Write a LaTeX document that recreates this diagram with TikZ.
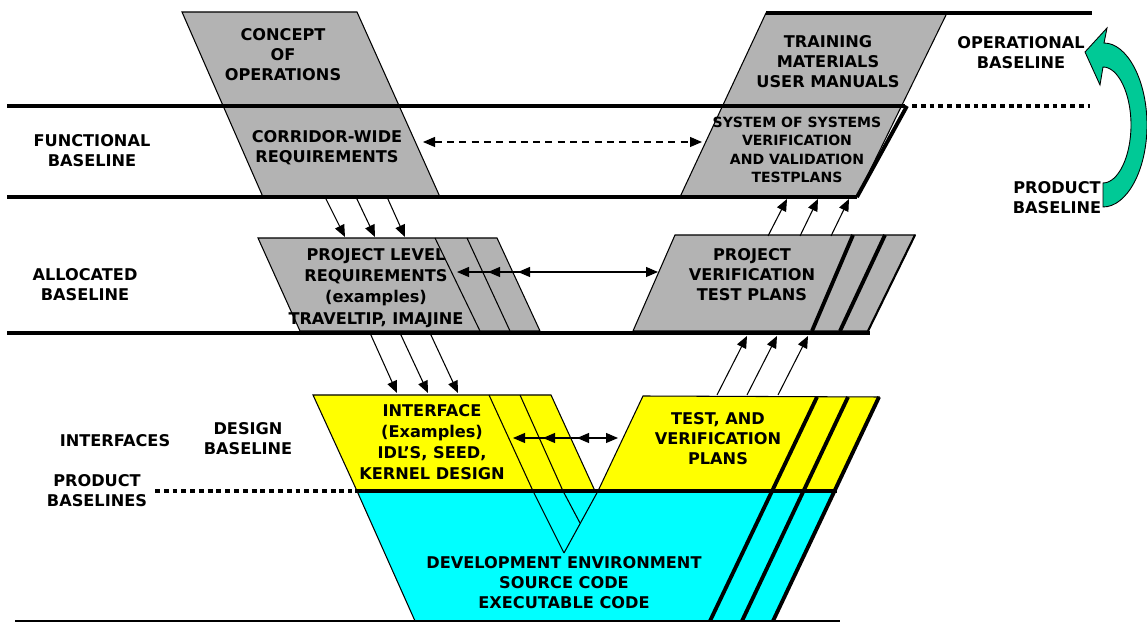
\documentclass[tikz,border=0pt]{standalone}
\usepackage{fontspec}
\setmainfont{DejaVu Sans}
\usetikzlibrary{arrows.meta}
\definecolor{BoxGray}{HTML}{B3B3B3}
\definecolor{DesignYellow}{HTML}{FFFF00}
\definecolor{DevCyan}{HTML}{00FFFF}
\definecolor{CycleGreen}{HTML}{00C996}
\begin{document}
\begin{tikzpicture}[x=0.02cm,y=-0.02cm,font=\fontsize{9.2}{11.4}\selectfont\bfseries,rule/.style={line width=2.8pt},dotrule/.style={line width=2.8pt,dash pattern=on 2.8pt off 2.2pt},graybox/.style={draw,fill=BoxGray,line width=0.6pt},yellowbox/.style={draw,fill=DesignYellow,line width=0.6pt},cyanbox/.style={draw,fill=DevCyan,line width=0.6pt},divider/.style={line width=2.2pt},thin line/.style={line width=0.6pt},arr/.style={-{Triangle[length=2.4mm,width=2mm]},line width=0.6pt},dblarr/.style={{Triangle[length=2.4mm,width=2mm]}-{Triangle[length=2.4mm,width=2mm]},line width=0.6pt},lbl/.style={align=center,inner sep=0pt}]
\useasboundingbox (0,0) rectangle (1147,624);
\filldraw[graybox] (182,12) -- (357,12) -- (440,197) -- (263,197) -- cycle;
\filldraw[graybox] (766,13) -- (947,13) -- (857,197) -- (680,197) -- cycle;
\draw[divider] (907,106) -- (857,197);
\filldraw[graybox] (258,238) -- (497,238) -- (540,331) -- (300,331) -- cycle;
\draw[thin line] (435,238) -- (480,331);\draw[thin line] (467,238) -- (510,331);
\filldraw[graybox] (675,235) -- (915,235) -- (868,331) -- (633,331) -- cycle;
\draw[divider] (853,235) -- (812,331);\draw[divider] (885,235) -- (840,331);\draw[line width=1.2pt] (915,235) -- (868,331);
\filldraw[cyanbox] (357,491) -- (415,621) -- (773,621) -- (835,491) -- cycle;
\filldraw[yellowbox] (313,395) -- (551,395) -- (595,491) -- (357,491) -- cycle;
\draw[thin line] (489,395) -- (533,491) -- (564,553);\draw[thin line] (520,395) -- (563,491) -- (580,523);
\filldraw[yellowbox] (643,396) -- (879,397) -- (835,491) -- (598,491) -- cycle;
\draw[thin line] (598,491) -- (564,553);
\draw[divider] (817,397) -- (710,621);\draw[divider] (848,397) -- (742,621);\draw[divider] (879,397) -- (773,621);
\draw[rule] (766,13) -- (1092,13);
\draw[rule] (7,106) -- (905,106);\draw[dotrule] (912,106) -- (1090,106);
\draw[rule] (7,197) -- (857,197);
\draw[rule] (7,333) -- (870,333);
\draw[rule] (355,491) -- (837,491);\draw[dotrule] (155,491) -- (352,491);
\draw[line width=1.2pt] (15,621) -- (840,621);
\node[lbl] (conops) at (283,55) {CONCEPT\\OF\\OPERATIONS};
\node[lbl] (corridor) at (327,148) {CORRIDOR-WIDE\\REQUIREMENTS};
\node[lbl] (training) at (828,62) {TRAINING\\MATERIALS\\USER MANUALS};
\node[lbl,font=\fontsize{8}{10.5}\selectfont\bfseries] (sosvv) at (797,150) {SYSTEM OF SYSTEMS\\VERIFICATION\\AND VALIDATION\\TESTPLANS};
\node[lbl,font=\fontsize{9.2}{12}\selectfont\bfseries] (projreq) at (376,288) {PROJECT LEVEL\\REQUIREMENTS\\(examples)\\TRAVELTIP, IMAJINE};
\node[lbl] (projver) at (752,275) {PROJECT\\VERIFICATION\\TEST PLANS};
\node[lbl,font=\fontsize{9.2}{12}\selectfont\bfseries] (interface) at (432,442) {INTERFACE\\(Examples)\\IDL’S, SEED,\\KERNEL DESIGN};
\node[lbl] (testver) at (718,439) {TEST, AND\\VERIFICATION\\PLANS};
\node[lbl] (devenv) at (564,583) {DEVELOPMENT ENVIRONMENT\\SOURCE CODE\\EXECUTABLE CODE};
\node[lbl] (funcbl) at (92,151) {FUNCTIONAL\\BASELINE};
\node[lbl] (allocbl) at (85,285) {ALLOCATED\\BASELINE};
\node[lbl] (ifaces) at (115,441) {INTERFACES};
\node[lbl] (designbl) at (248,439) {DESIGN\\BASELINE};
\node[lbl] (prodbls) at (97,491) {PRODUCT\\BASELINES};
\node[lbl] (operbl) at (1021,53) {OPERATIONAL\\BASELINE};
\node[lbl] (prodbl) at (1057,198) {PRODUCT\\BASELINE};
\coordinate (cwR) at (423,142);\coordinate (sosL) at (702,142);
\draw[dblarr,dash pattern=on 4pt off 3pt] (cwR) -- (sosL);
\coordinate (d1a) at (325,197);\coordinate (d1b) at (345,237);
\coordinate (d2a) at (356,197);\coordinate (d2b) at (375,237);
\coordinate (d3a) at (387,197);\coordinate (d3b) at (405,237);
\draw[arr] (d1a) -- (d1b);\draw[arr] (d2a) -- (d2b);\draw[arr] (d3a) -- (d3b);
\coordinate (e1a) at (370,333);\coordinate (e1b) at (397,393);
\coordinate (e2a) at (400,333);\coordinate (e2b) at (428,393);
\coordinate (e3a) at (430,333);\coordinate (e3b) at (458,393);
\draw[arr] (e1a) -- (e1b);\draw[arr] (e2a) -- (e2b);\draw[arr] (e3a) -- (e3b);
\coordinate (u1a) at (717,395);\coordinate (u1b) at (747,336);
\coordinate (u2a) at (747,395);\coordinate (u2b) at (777,336);
\coordinate (u3a) at (778,395);\coordinate (u3b) at (808,336);
\draw[arr] (u1a) -- (u1b);\draw[arr] (u2a) -- (u2b);\draw[arr] (u3a) -- (u3b);
\coordinate (v1a) at (768,236);\coordinate (v1b) at (787,199);
\coordinate (v2a) at (800,236);\coordinate (v2b) at (818,199);
\coordinate (v3a) at (831,236);\coordinate (v3b) at (849,199);
\draw[arr] (v1a) -- (v1b);\draw[arr] (v2a) -- (v2b);\draw[arr] (v3a) -- (v3b);
\coordinate (prL1) at (457,272);\coordinate (prL2) at (488,272);\coordinate (prL3) at (518,272);\coordinate (pvL) at (658,272);
\draw[dblarr] (prL1) -- (pvL);\draw[arr] (prL3) -- (prL2);\draw[arr] ([xshift=14]prL3) -- (prL3);
\coordinate (ifL1) at (513,438);\coordinate (ifL2) at (543,438);\coordinate (ifL3) at (577,438);\coordinate (tvL) at (618,438);
\draw[dblarr] (ifL1) -- (tvL);\draw[arr] (ifL3) -- (ifL2);\draw[arr] ([xshift=14]ifL3) -- (ifL3);
\filldraw[fill=CycleGreen,draw=black,line width=0.5pt] (1103,207) .. controls (1127,207) and (1147,170) .. (1147,125) .. controls (1147,80) and (1127,43) .. (1104,43) -- (1107,28) -- (1085,52) -- (1100,85) -- (1103,67) .. controls (1118,67) and (1131,93) .. (1131,125) .. controls (1131,157) and (1118,183) .. (1103,183) -- cycle;
\end{tikzpicture}
\end{document}
